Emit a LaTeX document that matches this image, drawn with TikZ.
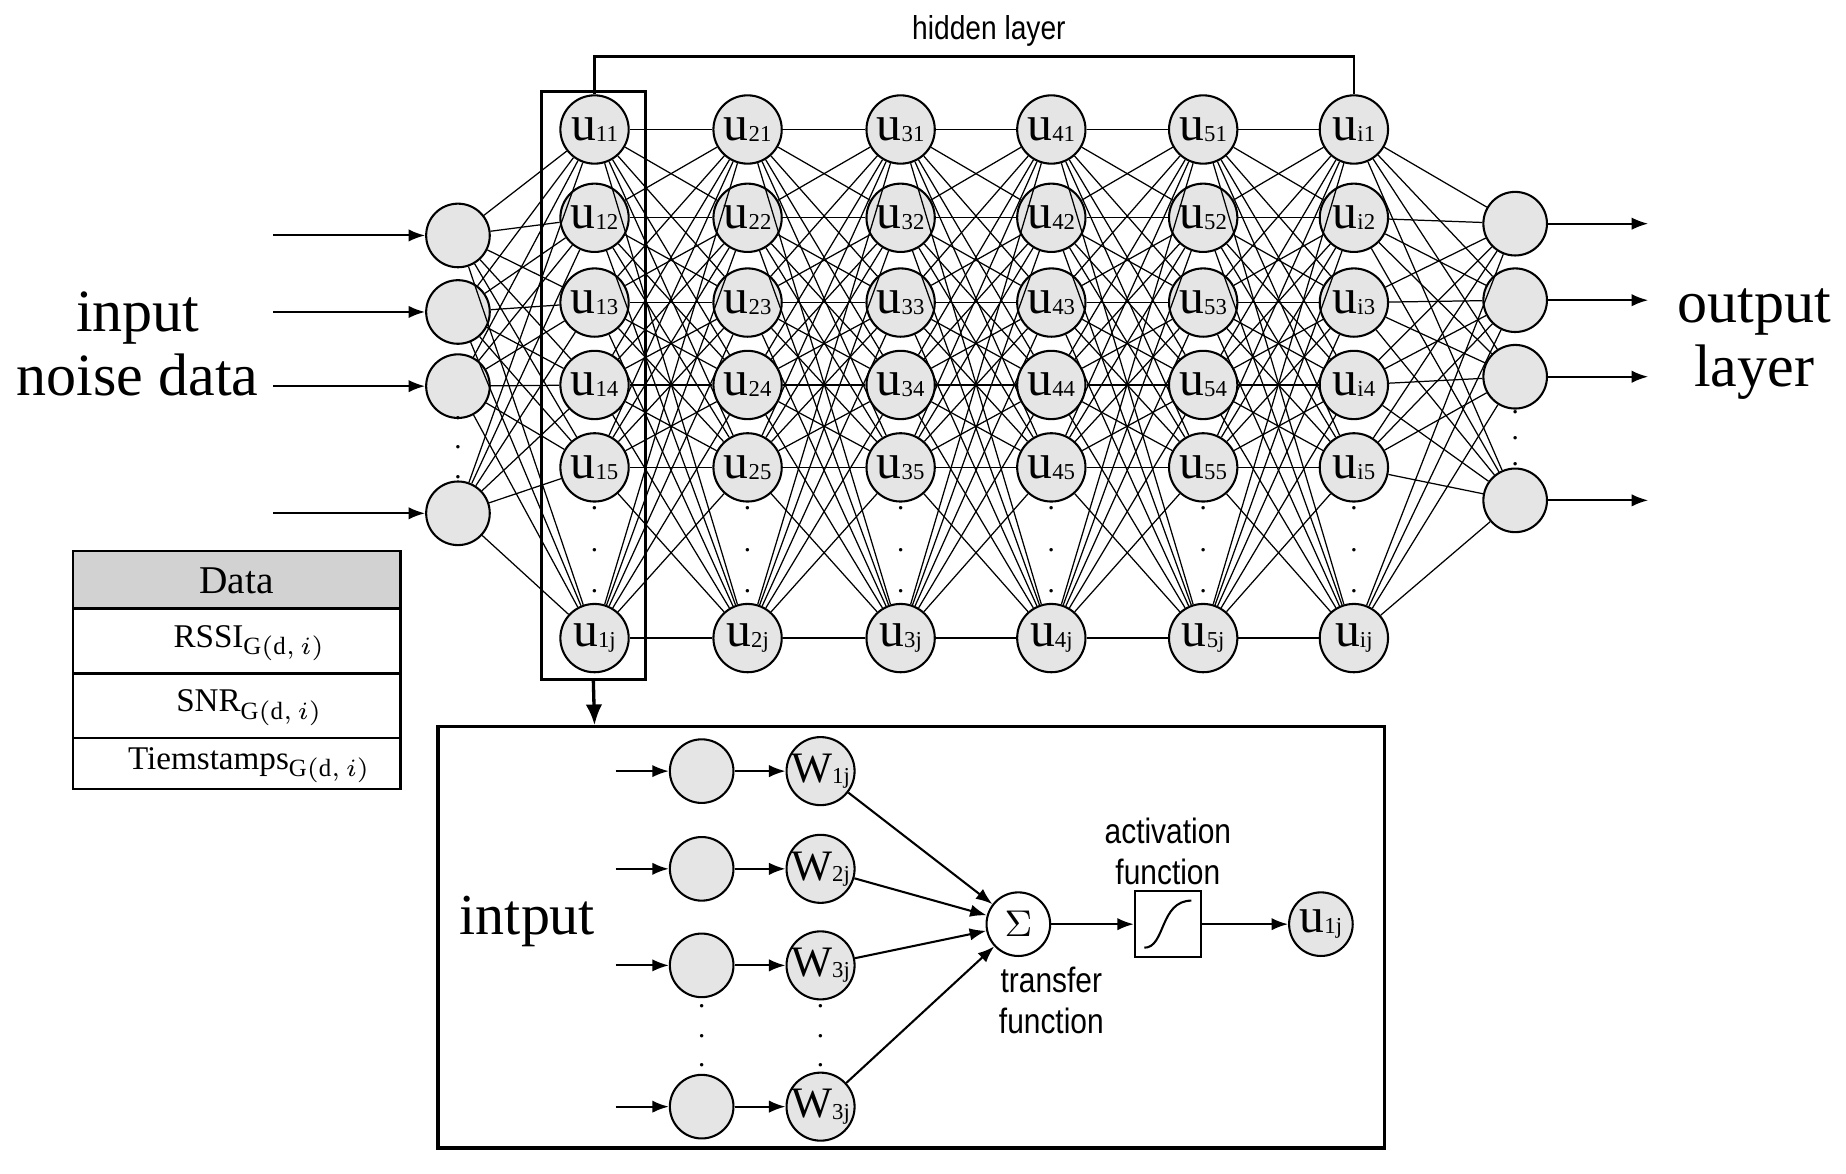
\documentclass[tikz,border=0pt]{standalone}
\usepackage{fontspec}
\setmainfont{Liberation Serif}
\setsansfont{Liberation Sans}[FakeStretch=0.85]
\usetikzlibrary{arrows.meta}
\begin{document}
\begin{tikzpicture}[x=0.01cm,y=-0.01cm,
  nd/.style={circle,draw,fill=gray!20,minimum size=0.54cm,inner sep=0pt,line width=0.5pt},
  ln/.style={line width=0.3pt},
  ar/.style={-{Latex[length=4pt,width=3pt]},line width=0.5pt},
  dt/.style={font=\fontsize{7}{7}\selectfont}]
\useasboundingbox (0,0) rectangle (1568,997);
\newcommand{\ulab}[1]{{\fontsize{12}{12}\selectfont u}\raisebox{-0.3pt}{\fontsize{5.5}{6}\selectfont #1}}
% input layer
\foreach \i/\y in {1/200,2/265,3/328,4/436}{
  \node[nd] (in\i) at (389,\y) {};
  \coordinate (is\i) at (232,\y);
  \draw[ar] (is\i) -- (in\i);
}
\foreach \y in {355,380,405} \node[dt] at (389,\y) {.};
% hidden layers
\foreach \c/\x/\n in {1/505/1,2/635/2,3/765/3,4/893/4,5/1022/5,6/1150/i}{
  \foreach \r/\y in {1/110,2/185,3/257,4/327,5/397}{
    \node[nd,minimum size=0.58cm] (h\c-\r) at (\x,\y) {\ulab{\n\r}};
  }
  \node[nd,minimum size=0.58cm] (h\c-6) at (\x,542) {\ulab{\n j}};
  \foreach \y in {432,467,502} \node[dt] at (\x,\y) {.};
}
% output layer
\foreach \i/\y in {1/190,2/255,3/320,4/425}{
  \node[nd] (out\i) at (1287,\y) {};
  \coordinate (os\i) at (1400,\y);
  \draw[ar] (out\i) -- (os\i);
}
\foreach \y in {350,372,394} \node[dt] at (1287,\y) {.};
% connections
\foreach \i in {1,...,4}\foreach \r in {1,...,6} \draw[ln] (in\i) -- (h1-\r);
\foreach \c [evaluate=\c as \d using int(\c+1)] in {1,...,5}
  \foreach \r in {1,...,6}\foreach \s in {1,...,6} \draw[ln] (h\c-\r) -- (h\d-\s);
\foreach \i in {1,...,4}\foreach \r in {1,...,6} \draw[ln] (h6-\r) -- (out\i);
% texts
\node[align=center,font=\fontsize{14.5}{15.5}\selectfont] at (117,292) {input\\noise data};
\node[align=center,font=\fontsize{14.5}{15.5}\selectfont] at (1490,292) {output\\layer};
% hidden bracket
\coordinate (b1) at (505,48); \coordinate (b2) at (1150,48);
\draw[line width=0.6pt] (h1-1.north) -- (b1) -- (b2) -- (h6-1.north);
\node[font=\sffamily\fontsize{8}{8}\selectfont] at (840,26) {hidden layer};
% column box
\node[draw,line width=0.7pt,minimum width=0.88cm,minimum height=4.99cm] (col) at (504,327.5) {};
\coordinate (bt) at (505,616);
\draw[-{Latex[length=5pt,width=4pt]},line width=0.8pt] (col.south) -- (bt);
% data table
\begin{scope}[line width=0.6pt]
\fill[gray!35] (62,468) rectangle (340,517);
\draw (62,468) rectangle (340,670);
\draw (62,517) -- (340,517); \draw (62,572) -- (340,572); \draw (62,627) -- (340,627);
\end{scope}
\node[font=\fontsize{9.5}{9}\selectfont] (d0) at (201,493) {Data};
\node[font=\fontsize{8}{8}\selectfont] (d1) at (212,546) {RSSI$_{\mathrm{G(d,}\,i\mathrm{)}}$};
\node[font=\fontsize{8}{8}\selectfont] (d2) at (212,601) {SNR$_{\mathrm{G(d,}\,i\mathrm{)}}$};
\node[font=\fontsize{8}{8}\selectfont] (d3) at (212,650) {Tiemstamps$_{\mathrm{G(d,}\,i\mathrm{)}}$};
% bottom box
\draw[line width=0.8pt] (372,617) rectangle (1176,975);
\node[font=\fontsize{14}{14}\selectfont] at (448,783) {intput};
\newcommand{\wlab}[1]{{\fontsize{10.5}{11}\selectfont W}\raisebox{-0.3pt}{\fontsize{5.5}{6}\selectfont #1}}
\node[circle,draw,line width=0.5pt,minimum size=0.54cm,inner sep=0pt] (sum) at (865,785) {\fontsize{9}{9}\selectfont$\Sigma$};
\foreach \i/\y/\w in {1/655/1j,2/738/2j,3/820/3j,4/940/3j}{
  \node[nd] (bi\i) at (596,\y) {};
  \coordinate (bs\i) at (523,\y);
  \draw[ar] (bs\i) -- (bi\i);
  \node[nd] (w\i) at (697,\y) {\wlab{\w}};
  \draw[ar] (bi\i) -- (w\i);
  \draw[ar] (w\i) -- (sum);
}
\foreach \y in {855,880,905} {\node[dt] at (596,\y) {.}; \node[dt] at (697,\y) {.};}
\node[draw,line width=0.5pt,minimum size=0.56cm,inner sep=0pt] (act) at (992,785) {};
\draw[line width=0.5pt] (972,805) .. controls (990,805) and (985,765) .. (1012,765);
\node[nd] (uo) at (1122,785) {\ulab{1j}};
\draw[ar] (sum) -- (act);
\draw[ar] (act) -- (uo);
\node[align=center,font=\sffamily\fontsize{8.5}{10}\selectfont] at (992,723) {activation\\function};
\node[align=center,font=\sffamily\fontsize{8.5}{10}\selectfont] at (893,850) {transfer\\function};
\end{tikzpicture}
\end{document}
